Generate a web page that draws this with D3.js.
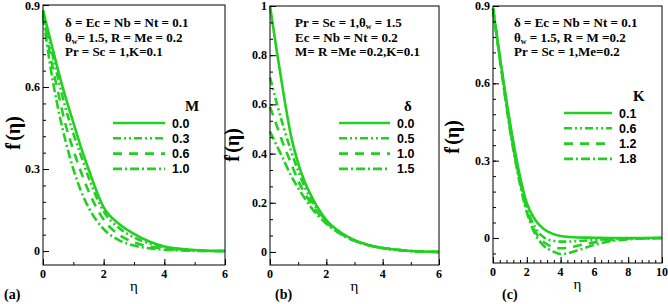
<!DOCTYPE html>
<html>
<head>
<meta charset="utf-8">
<script src="https://cdn.jsdelivr.net/npm/d3@7"></script>
<style>
  body { margin: 0; background: #fff; }
  svg { display: block; }
  text { fill: #000; }
</style>
</head>
<body>
<div id="chart"></div>
<script>

// ---- data ----
var etaA = [0, 0.25, 0.5, 0.75, 1, 1.25, 1.5, 2, 2.5, 3, 3.5, 4, 5, 6];
var legendA = ["0.0", "0.3", "0.6", "1.0"];
var valuesA = [
    [0.88, 0.77, 0.66, 0.56, 0.47, 0.38, 0.30, 0.16, 0.10, 0.063, 0.035, 0.017, 0.004, 0],
    [0.88, 0.75, 0.63, 0.52, 0.43, 0.35, 0.27, 0.145, 0.085, 0.05, 0.028, 0.014, 0.003, 0],
    [0.87, 0.71, 0.58, 0.46, 0.37, 0.29, 0.22, 0.115, 0.06, 0.032, 0.017, 0.008, 0.002, 0],
    [0.86, 0.67, 0.52, 0.40, 0.30, 0.22, 0.16, 0.08, 0.04, 0.02, 0.01, 0.005, 0.001, 0]
];

var etaB = [0, 0.25, 0.5, 0.75, 1, 1.25, 1.5, 2, 2.5, 3, 3.5, 4, 5, 6];
var legendB = ["0.0", "0.5", "1.0", "1.5"];
var valuesB = [
    [1.0, 0.81, 0.63, 0.47, 0.36, 0.28, 0.22, 0.13, 0.08, 0.048, 0.028, 0.016, 0.004, 0],
    [0.71, 0.60, 0.50, 0.41, 0.33, 0.26, 0.205, 0.125, 0.078, 0.047, 0.028, 0.016, 0.004, 0],
    [0.59, 0.51, 0.43, 0.36, 0.29, 0.235, 0.19, 0.12, 0.075, 0.046, 0.027, 0.016, 0.004, 0],
    [0.49, 0.43, 0.37, 0.31, 0.26, 0.215, 0.175, 0.115, 0.073, 0.045, 0.027, 0.016, 0.004, 0]
];

var etaC = [0, 0.5, 1, 1.5, 2, 2.5, 3, 3.5, 4, 4.5, 5, 6, 7, 8, 10];
var legendC = ["0.1", "0.6", "1.2", "1.8"];
var valuesC = [
    [0.89, 0.66, 0.45, 0.27, 0.135, 0.07, 0.035, 0.017, 0.008, 0.004, 0.002, 0.001, 0, 0, 0],
    [0.89, 0.66, 0.44, 0.26, 0.12, 0.04, 0.003, -0.01, -0.014, -0.014, -0.012, -0.008, -0.004, -0.002, 0],
    [0.89, 0.65, 0.43, 0.25, 0.11, 0.025, -0.015, -0.034, -0.04, -0.037, -0.03, -0.017, -0.008, -0.003, 0],
    [0.89, 0.65, 0.42, 0.24, 0.10, 0.015, -0.03, -0.05, -0.062, -0.058, -0.048, -0.027, -0.012, -0.005, 0]
];

var yTicksA = [0, 0.3, 0.6, 0.9];
var yTicksB = [0, 0.2, 0.4, 0.6, 0.8, 1];
var yTicksC = [0, 0.3, 0.6, 0.9];
var xTicksA = [0, 2, 4, 6];
var xTicksB = [0, 2, 4, 6];
var xTicksC = [0, 2, 4, 6, 8, 10];

var green = "#22d022";
var dashes = [null, "8,3,2,3,2,3", "9,7", "9,3,2,3"];

var width = 668, height = 304;
var svg = d3.select("#chart")
    .append("svg")
    .attr("width", width)
    .attr("height", height);

function drawPanel(p) {

    var x = d3.scaleLinear().domain(p.xDomain).range([p.left, p.right]);
    var y = d3.scaleLinear().domain(p.yDomain).range([p.bottom, p.top]);

    var g = svg.append("g");

    // curves
    var line = d3.line()
        .x(function(d){ return x(d[0]); })
        .y(function(d){ return y(d[1]); })
        .curve(d3.curveMonotoneX);

    p.values.forEach(function(v, i){
        var pts = p.eta.map(function(e, j){ return [e, v[j]]; });
        g.append("path")
            .datum(pts)
            .attr("fill", "none")
            .attr("stroke", green)
            .attr("stroke-width", 2.6)
            .attr("stroke-dasharray", dashes[i])
            .attr("d", line);
    });

    // frame
    g.append("rect")
        .attr("x", p.left).attr("y", p.top)
        .attr("width", p.right - p.left)
        .attr("height", p.bottom - p.top)
        .attr("fill", "none")
        .attr("stroke", "#000")
        .attr("stroke-width", 1);

    // ticks (inward)
    var yMinor = d3.range(0, p.yDomain[1] + 1e-9, p.yMinorStep)
        .concat(d3.range(-p.yMinorStep, p.yDomain[0] - 1e-9, -p.yMinorStep));
    var xMinor = d3.range(p.xDomain[0], p.xDomain[1] + 1e-9, p.xMinorStep);

    var yAxisMinor = d3.axisRight(y).tickValues(yMinor).tickSize(3).tickFormat("");
    var yAxisMajor = d3.axisRight(y).tickValues(p.yTicks).tickSize(6).tickFormat("");
    var xAxisMinor = d3.axisTop(x).tickValues(xMinor).tickSize(3).tickFormat("");
    var xAxisMajor = d3.axisTop(x).tickValues(p.xTicks).tickSize(6).tickFormat("");

    [yAxisMinor, yAxisMajor].forEach(function(ax){
        var a = g.append("g").attr("transform", "translate(" + p.left + ",0)").call(ax);
        a.select(".domain").remove();
    });
    [xAxisMinor, xAxisMajor].forEach(function(ax){
        var a = g.append("g").attr("transform", "translate(0," + p.bottom + ")").call(ax);
        a.select(".domain").remove();
    });

    // tick labels
    g.selectAll(".ylab")
        .data(p.yTicks)
        .enter()
        .append("text")
        .attr("x", p.left - 3)
        .attr("y", function(d){ return Math.max(y(d) + 4, 10); })
        .attr("text-anchor", "end")
        .style("font", "bold 12px 'Liberation Serif', serif")
        .text(function(d){ return d; });

    g.selectAll(".xlab")
        .data(p.xTicks)
        .enter()
        .append("text")
        .attr("x", function(d){ return x(d); })
        .attr("y", p.bottom + 13)
        .attr("text-anchor", "middle")
        .style("font", "bold 12px 'Liberation Serif', serif")
        .text(function(d){ return d; });

    // axis titles
    g.append("text")
        .attr("x", (p.left + p.right) / 2)
        .attr("y", p.bottom + 26)
        .attr("text-anchor", "middle")
        .style("font", "15px 'Liberation Serif', serif")
        .text("η");

    var yl = g.append("text")
        .attr("transform", "translate(" + p.yLabelX + "," + p.yLabelY + ") rotate(-90)")
        .attr("text-anchor", "middle")
        .style("font", "bold 20px 'Liberation Serif', serif");
    yl.append("tspan").text("f");
    yl.append("tspan").attr("dy", -6).attr("dx", -2).style("font-size", "12px").text("'");
    yl.append("tspan").attr("dy", 6).attr("dx", 1).text("(η)");

    g.append("text")
        .attr("x", p.tagX)
        .attr("y", 299)
        .style("font", "bold 14px 'Liberation Serif', serif")
        .text(p.tag);

    // annotation
    p.notes.forEach(function(n, i){
        var t = g.append("text")
            .attr("x", p.noteX)
            .attr("y", 27 + i * 14.5)
            .style("font", "bold 13px 'Liberation Serif', serif");
        n.forEach(function(part){
            var s = t.append("tspan").text(part.t);
            if (part.sub) s.attr("dy", 2).style("font-size", "8px");
            if (part.up) s.attr("dy", -2);
        });
    });

    // legend
    g.append("text")
        .attr("x", p.legTitleX)
        .attr("y", p.legY - 12)
        .style("font", "bold 15px 'Liberation Serif', serif")
        .text(p.legTitle);

    p.legend.forEach(function(lab, i){
        var ly = p.legY + i * 15.3;
        g.append("line")
            .attr("x1", p.legX1).attr("x2", p.legX2)
            .attr("y1", ly).attr("y2", ly)
            .attr("stroke", green)
            .attr("stroke-width", 2.6)
            .attr("stroke-dasharray", dashes[i]);
        g.append("text")
            .attr("x", p.legX2 + 7)
            .attr("y", ly + 4.5)
            .style("font", "bold 12.5px 'Liberation Sans', sans-serif")
            .text(lab);
    });
}

drawPanel({
    left: 43, right: 225, top: 5, bottom: 265,
    xDomain: [0, 6], yDomain: [-0.051, 0.9],
    xTicks: xTicksA, yTicks: yTicksA, xMinorStep: 1, yMinorStep: 0.06,
    eta: etaA, values: valuesA, legend: legendA, legTitle: "M",
    legX1: 113, legX2: 165, legY: 123, legTitleX: 185,
    yLabelX: 20, yLabelY: 133, tag: "(a)", tagX: 4,
    noteX: 65,
    notes: [
        [{t: "δ = Ec = Nb = Nt = 0.1"}],
        [{t: "θ"}, {t: "w", sub: true}, {t: "= 1.5, R = Me = 0.2", up: true}],
        [{t: "Pr = Sc = 1,K=0.1"}]
    ]
});

drawPanel({
    left: 270, right: 439, top: 6, bottom: 265,
    xDomain: [0, 6], yDomain: [-0.053, 1],
    xTicks: xTicksB, yTicks: yTicksB, xMinorStep: 1, yMinorStep: 0.2 / 3,
    eta: etaB, values: valuesB, legend: legendB, legTitle: "δ",
    legX1: 339, legX2: 390, legY: 123, legTitleX: 404,
    yLabelX: 239, yLabelY: 145, tag: "(b)", tagX: 275,
    noteX: 295,
    notes: [
        [{t: "Pr = Sc = 1,θ"}, {t: "w", sub: true}, {t: " = 1.5", up: true}],
        [{t: "Ec = Nb = Nt = 0.2"}],
        [{t: "M= R =Me =0.2,K=0.1"}]
    ]
});

drawPanel({
    left: 493, right: 662, top: 6, bottom: 263,
    xDomain: [0, 10], yDomain: [-0.097, 0.9],
    xTicks: xTicksC, yTicks: yTicksC, xMinorStep: 0.4, yMinorStep: 0.06,
    eta: etaC, values: valuesC, legend: legendC, legTitle: "K",
    legX1: 564, legX2: 612, legY: 113, legTitleX: 633,
    yLabelX: 459, yLabelY: 137, tag: "(c)", tagX: 502,
    noteX: 514,
    notes: [
        [{t: "δ = Ec = Nb = Nt = 0.1"}],
        [{t: "θ"}, {t: "w", sub: true}, {t: " = 1.5, R = M =0.2", up: true}],
        [{t: "Pr = Sc = 1,Me=0.2"}]
    ]
});

</script>
</body>
</html>
